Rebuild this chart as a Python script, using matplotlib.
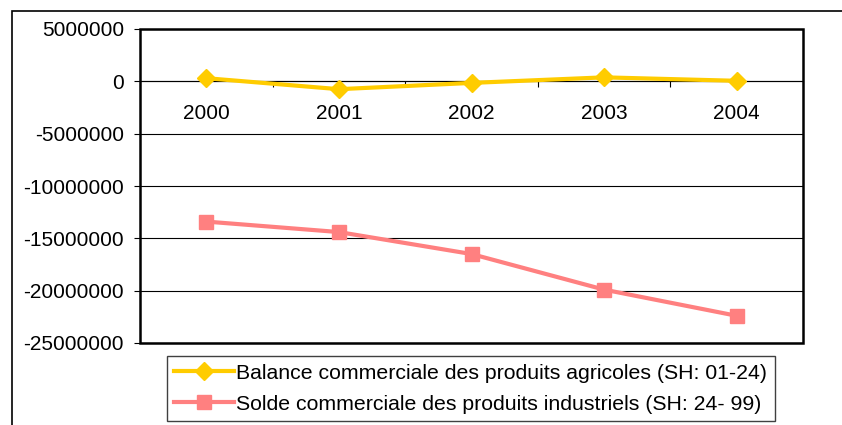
import matplotlib
matplotlib.use("Agg")
import matplotlib.pyplot as plt
from matplotlib.patches import Rectangle

plt.rcParams['font.family'] = ['Liberation Sans', 'DejaVu Sans']

years = ['2000', '2001', '2002', '2003', '2004']
agricole = [300000, -750000, -150000, 380000, 50000]
industriel = [-13400000, -14400000, -16500000, -19900000, -22400000]
yticks = [5000000, 0, -5000000, -10000000, -15000000, -20000000, -25000000]

fig = plt.figure(figsize=(8.42, 4.25), dpi=100)
ax = fig.add_axes([140/842, 1-343/425, 663/842, 314/425])

x = range(len(years))
ax.plot(x, agricole, color='#FFCC00', lw=3, marker='D', ms=9.5,
        label='Balance commerciale des produits agricoles (SH: 01-24)', zorder=4)
ax.plot(x, industriel, color='#FF8080', lw=3, marker='s', ms=10.5,
        label='Solde commerciale des produits industriels (SH: 24- 99)', zorder=4)

ax.set_xlim(-0.5, 4.5)
ax.set_ylim(-25000000, 5000000)
ax.set_yticks(yticks)
ax.set_yticklabels([str(v) for v in yticks])
ax.yaxis.grid(True, color='black', lw=0.8)
ax.set_axisbelow(True)

# category axis sits on the zero line
for s in ['top', 'right', 'left']:
    ax.spines[s].set_visible(False)
ax.spines['bottom'].set_position(('data', 0))
ax.spines['bottom'].set_linewidth(0.8)
ax.set_xticks(list(x))
ax.set_xticklabels(years)
ax.set_xticks([0.5, 1.5, 2.5, 3.5], minor=True)
ax.tick_params(axis='x', which='major', length=0, pad=16, labelsize=15)
ax.tick_params(axis='x', which='minor', length=4.5, width=0.8)
ax.tick_params(axis='y', length=4.5, width=0.8, pad=7, labelsize=15)

ax.add_patch(Rectangle((0, 0), 1, 1, transform=ax.transAxes, fill=False,
                       lw=1.8, edgecolor='black', clip_on=False, zorder=5))

# outer chart border
fig.patches.append(Rectangle((12/842, -0.1), 1.1, 0.1+1-11/425, transform=fig.transFigure,
                             fill=False, lw=1.2, edgecolor='black'))

leg = ax.legend(loc='lower left', bbox_to_anchor=(167/842, 4/425), bbox_transform=fig.transFigure,
                fontsize=15.3, handlelength=2.8, handletextpad=0.1, borderpad=0.35,
                labelspacing=0.55, fancybox=False, framealpha=1, borderaxespad=0)
leg.get_frame().set_edgecolor('#404040')
leg.get_frame().set_linewidth(1)

fig.savefig('out.png', dpi=100)
